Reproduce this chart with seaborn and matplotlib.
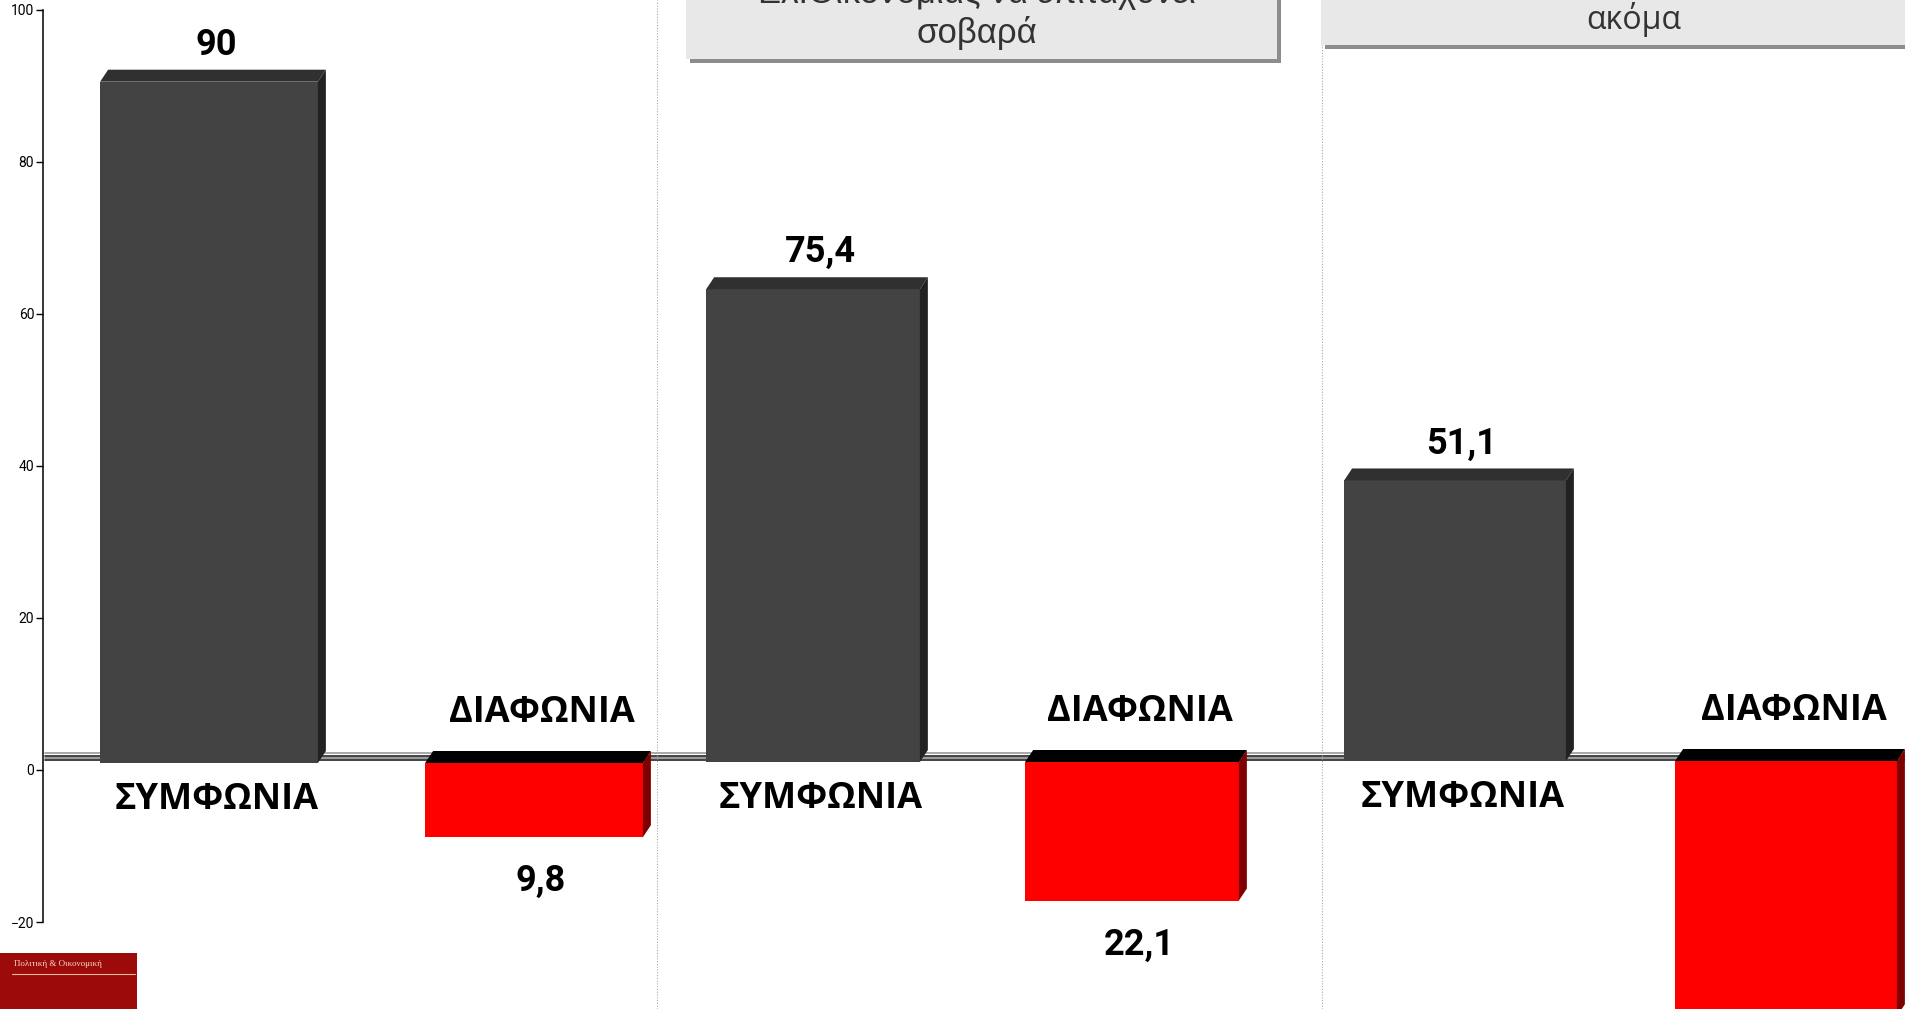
import pandas as pd
import matplotlib
matplotlib.use("Agg")
import matplotlib.pyplot as plt
from matplotlib.patches import Polygon, Rectangle
from matplotlib.lines import Line2D
import seaborn as sns

# data (3 survey questions, agree / disagree %)
categories = ["ΣΥΜΦΩΝΙΑ", "ΔΙΑΦΩΝΙΑ"]
agree = [90.0, 75.4, 51.1]
disagree = [9.8, 22.1, 46.5]
agree_labels = ["90", "75,4", "51,1"]
disagree_labels = ["9,8", "22,1", ""]
panel_titles = ["", "Ελ.Οικονομίας να επιταχύνει\nσοβαρά", "ακόμα"]
axis_ticks = [-20, 0, 20, 40, 60, 80, 100]

W, H = 1905, 1009
DARK, RED = "#434343", "#ff0000"
TOP = {DARK: "#303030", RED: "#000000"}
SIDE = {DARK: "#222222", RED: "#7f0000"}

# each panel: first bar centre (px), bar step (px), zero line (px from top), px per unit
panels = [
    dict(c0=209, step=325, base=763, scale=7.57),
    dict(c0=813, step=319, base=762, scale=6.27),
    dict(c0=1455, step=331, base=761, scale=5.49),
]

sns.set_theme(style="white")
plt.rcParams["font.family"] = ["Open Sans", "DejaVu Sans"]
narrow = ["Roboto", "DejaVu Sans"]

fig = plt.figure(figsize=(W / 100, H / 100), dpi=100)
fig.patch.set_facecolor("white")


def fx(x):
    return x / W


def fy(y):
    return 1 - y / H


# floor of the 3d chart (seen edge on)
for y, c in [(753, "#999999"), (755.5, "#222222"), (758, "#888888"), (760, "#222222")]:
    fig.add_artist(Line2D([fx(45), 1], [fy(y), fy(y)], color=c, lw=1.2, zorder=-2))

# dotted dividers between the panels
for x in [657, 1322]:
    fig.add_artist(Line2D([fx(x), fx(x)], [0, 1], color="#aaaaaa", lw=0.8,
                          ls=(0, (1, 1.5)), zorder=-1))

for i, p in enumerate(panels):
    ax = fig.add_axes([0, 0, 1, 1])
    df = pd.DataFrame({"cat": categories, "val": [agree[i], -disagree[i]]})
    sns.barplot(data=df, x="cat", y="val", hue="cat", palette=[DARK, RED],
                width=0.67, saturation=1, legend=False, ax=ax, zorder=3,
                linewidth=0, edgecolor="none")
    ax.set_xlim(-p["c0"] / p["step"], (W - p["c0"]) / p["step"])
    ax.set_ylim(-(H - p["base"]) / p["scale"], p["base"] / p["scale"])
    ax.set_axis_off()
    ax.patch.set_alpha(0)

    dx = 8 / p["step"]
    dy = 12 / p["scale"]
    for bar in ax.patches[:2]:
        col = matplotlib.colors.to_hex(bar.get_facecolor())
        x0 = bar.get_x()
        x1 = x0 + bar.get_width()
        v = bar.get_height()
        t = max(v, 0)
        ax.add_patch(Polygon([(x0, t), (x1, t), (x1 + dx, t + dy), (x0 + dx, t + dy)],
                             closed=True, fc=TOP[col], ec="none", zorder=3))
        ax.add_patch(Polygon([(x1, t), (x1 + dx, t + dy), (x1 + dx, min(v, 0) + dy), (x1, min(v, 0))],
                             closed=True, fc=SIDE[col], ec="none", zorder=3))

    b_ag, b_dis = ax.patches[0], ax.patches[1]
    ca = b_ag.get_x() + b_ag.get_width() / 2
    cd = b_dis.get_x() + b_dis.get_width() / 2
    off_v = 7 / p["step"]
    off_c = 8 / p["step"]
    ax.text(ca + off_v, agree[i] + 37 / p["scale"], agree_labels[i], ha="center", va="center",
            fontsize=26, fontweight="bold", family=narrow, color="black")
    ax.text(cd + off_v, -disagree[i] - 44 / p["scale"], disagree_labels[i], ha="center",
            va="center", fontsize=26, fontweight="bold", family=narrow, color="black")
    ax.text(ca + off_c, -37 / p["scale"], categories[0], ha="center", va="center",
            fontsize=26, fontweight="bold", color="black")
    ax.text(cd + off_c, 50 / p["scale"], categories[1], ha="center", va="center",
            fontsize=26, fontweight="bold", color="black")

# question boxes at the top, cut by the frame
boxes = [(686, 1277, 59, 977, 42.5, ["Liberation Sans", "DejaVu Sans"], 25),
         (1321, W + 10, 45, 1634, 29, ["Open Sans", "DejaVu Sans"], 23)]
for (x0, x1, yb, cx, base, fam, fs), title in zip(boxes, panel_titles[1:]):
    fig.add_artist(Rectangle((fx(x0 + 4), fy(yb + 4)), fx(x1 - x0), yb / H + 0.02,
                             fc="#8c8c8c", ec="none", zorder=1))
    fig.add_artist(Rectangle((fx(x0), fy(yb)), fx(x1 - x0), yb / H + 0.02,
                             fc="#e8e8e8", ec="none", zorder=1))
    for k, line in enumerate(reversed(title.split("\n"))):
        fig.text(fx(cx), fy(base - 39 * k), line, ha="center", va="baseline",
                 fontsize=fs, color="#333333", family=fam, zorder=2)

# y scale of the first chart
ay = fig.add_axes([fx(42.5), fy(922), 0.0005, fy(9.7) - fy(922)])
ay.set_ylim(-20, 100)
ay.set_yticks(axis_ticks)
ay.set_xticks([])
ay.patch.set_alpha(0)
for s in ["top", "right", "bottom"]:
    ay.spines[s].set_visible(False)
ay.spines["left"].set_color("black")
ay.spines["left"].set_linewidth(1.1)
ay.tick_params(axis="y", direction="out", length=5, width=1, color="black", left=True,
               labelsize=10, pad=1, labelcolor="black")
for lab in ay.get_yticklabels():
    lab.set_family(narrow)

# publisher logo
fig.add_artist(Rectangle((0, 0), fx(137), fy(953), fc="#9c0a0a", ec="none", zorder=1))
fig.add_artist(Line2D([fx(12), fx(135)], [fy(974), fy(974)], color="#e8b8a0", lw=0.8, zorder=2))
fig.text(fx(14), fy(964), "Πολιτική & Οικονομική", fontsize=6.5, color="#f4dccc",
         family=["Liberation Serif", "DejaVu Serif"], va="center", ha="left", zorder=2)

fig.savefig("out.png", dpi=100)
